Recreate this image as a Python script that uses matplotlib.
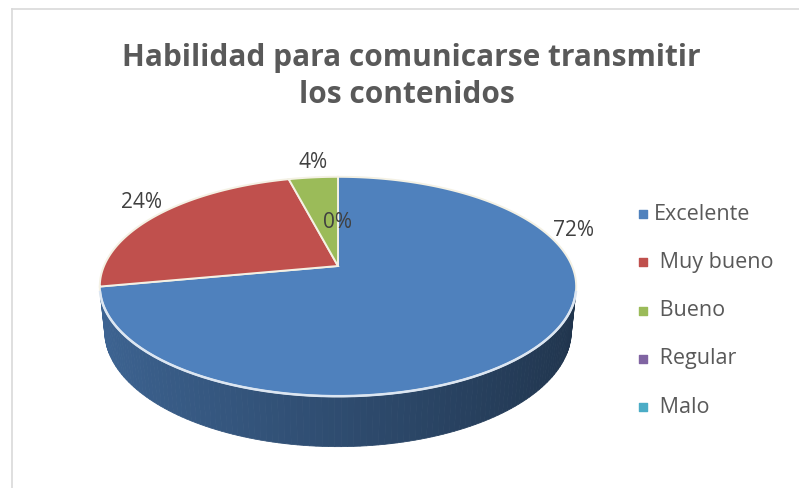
import numpy as np
import matplotlib
matplotlib.use("Agg")
import matplotlib.pyplot as plt
from matplotlib.patches import Polygon
from matplotlib.colors import to_rgb

plt.rcParams['font.family'] = ['Open Sans', 'DejaVu Sans']

# datos
categorias = ["Excelente", " Muy bueno", " Bueno", " Regular", " Malo"]
respuestas = [18, 6, 1, 0, 0]
etiquetas = ["72%", "24%", "4%", "0%", None]
colores = ["#4f81bd", "#c0504d", "#9bbb59", "#8064a2", "#4bacc6"]

titulo_1 = "Habilidad para comunicarse transmitir"
titulo_2 = "los contenidos"

# posiciones de las etiquetas (estilo Excel)
pos_etiquetas = [(574, 231), (142, 202), (313, 163), (337, 222), None]

fig = plt.figure(figsize=(7.99, 4.88), dpi=100)
ax = fig.add_axes([0, 0, 1, 1])
ax.set_xlim(0, 799)
ax.set_ylim(488, 0)
ax.axis("off")

# marco del grafico
ax.plot([12, 12], [9, 488], color="#d9d9d9", lw=1.2)
ax.plot([12, 799], [9, 9], color="#d9d9d9", lw=1.2)

ax.text(411, 66, titulo_1, ha="center", va="baseline", fontsize=21.5,
        fontweight="bold", color="#595959")
ax.text(407, 103, titulo_2, ha="center", va="baseline", fontsize=21.5,
        fontweight="bold", color="#595959")

# proyeccion en perspectiva del pastel 3D
cx, cy = 338, 266
elev = np.radians(26.9)
s, c = np.sin(elev), np.cos(elev)
dist = 4.77
F = 234 * dist
h = 0.214


def proj(phi, r=1.0, z=0.0):
    X = r * np.sin(phi)
    Y = r * np.cos(phi)
    v = Y * s + z * c
    w = Y * c - z * s
    k = F / (dist + w)
    return cx + X * k, cy - v * k


total = sum(respuestas)
angulos = np.cumsum([0] + [2 * np.pi * v / total for v in respuestas])

# pared lateral visible
lim = np.arccos(-1 / (dist * c))
for i, v in enumerate(respuestas):
    a0, a1 = max(angulos[i], lim), min(angulos[i + 1], 2 * np.pi - lim)
    if v == 0 or a1 <= a0:
        continue
    t = np.linspace(a0, a1, 120)
    base = np.array(to_rgb(colores[i]))
    for j in range(len(t) - 1):
        xm = np.sin((t[j] + t[j + 1]) / 2)
        f = 0.78 - 0.38 * (xm + 1) / 2
        col = np.clip(base * f, 0, 1)
        x0, y0 = proj(t[j])
        x1, y1 = proj(t[j + 1])
        x2, y2 = proj(t[j + 1], z=-h)
        x3, y3 = proj(t[j], z=-h)
        ax.add_patch(Polygon([(x0, y0), (x1, y1), (x2, y2), (x3, y3)],
                             closed=True, facecolor=col, edgecolor=col, lw=0.6))

# cara superior
for i, v in enumerate(respuestas):
    if v == 0:
        continue
    t = np.linspace(angulos[i], angulos[i + 1], 200)
    xs, ys = proj(t)
    pts = [(cx, cy)] + list(zip(xs, ys))
    ax.add_patch(Polygon(pts, closed=True, facecolor=colores[i],
                         edgecolor="#f4f1e4", lw=1.4, zorder=3))

# borde claro de la cara superior
t = np.linspace(lim, 2 * np.pi - lim, 200)
xs, ys = proj(t)
ax.plot(xs, ys, color="#dce6f2", lw=1.8, zorder=4)

# etiquetas de datos
for et, p in zip(etiquetas, pos_etiquetas):
    if et is None:
        continue
    ax.text(p[0], p[1], et, ha="center", va="center", fontsize=15,
            color="#404040", zorder=5)

# leyenda
for i, cat in enumerate(categorias):
    y = 214 + i * 48.3
    ax.scatter([643], [y], marker="s", s=36, color=colores[i], zorder=5)
    ax.text(654, y, cat, ha="left", va="center", fontsize=15.5, color="#595959")

fig.savefig("out.png", dpi=100)
